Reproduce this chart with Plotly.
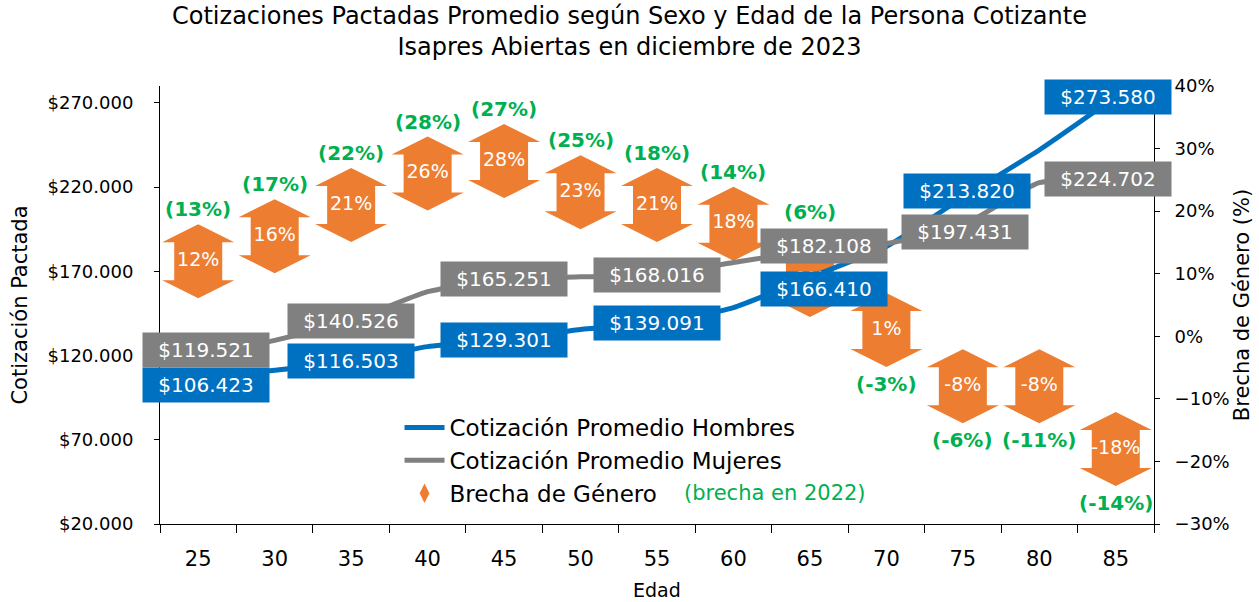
import plotly.graph_objects as go

# Average contracted contribution by age band, open Isapres, December 2023
ages = ["25", "30", "35", "40", "45", "50", "55", "60", "65", "70", "75", "80", "85"]
men = [106423, 111200, 116503, 125300, 129301, 135500, 139091, 148500, 166410, 184700, 213820, 242000, 273580]
women = [119521, 129000, 140526, 157900, 165251, 166700, 168016, 175200, 182108, 186500, 197431, 222600, 224702]
# Gender gap (%) for 2023 and the 2022 reference gap
gap_2023 = [12, 16, 21, 26, 28, 23, 21, 18, 9, 1, -8, -8, -18]
gap_2022 = [13, 17, 22, 28, 27, 25, 18, 14, 6, -3, -6, -11, -14]
labeled = [0, 2, 4, 6, 8, 10, 12]  # age bands whose amounts get a label box

left_ticks = [20000, 70000, 120000, 170000, 220000, 270000]
right_ticks = [-0.3, -0.2, -0.1, 0.0, 0.1, 0.2, 0.3, 0.4]

BLUE = "#0070C0"
GRAY = "#808080"
ORANGE = "#ED7D31"
GREEN = "#00B050"
FONT = "DejaVu Sans"


def money(v):
    return "$" + f"{v:,}".replace(",", ".")


fig = go.Figure()

# white percentage labels sitting on the gap arrows (drawn first, under the lines)
fig.add_trace(go.Scatter(
    x=ages, y=[g / 100 for g in gap_2023], yaxis="y2", mode="text",
    text=[f"{g}%" for g in gap_2023], textposition="middle center",
    textfont=dict(family=FONT, size=19, color="white"),
    showlegend=False, hoverinfo="skip",
))

fig.add_trace(go.Scatter(
    x=ages, y=men, mode="lines", name="Cotización Promedio Hombres",
    line=dict(color=BLUE, width=5, shape="spline", smoothing=0.5),
    legendgroup="a", legendrank=1,
))
fig.add_trace(go.Scatter(
    x=ages, y=women, mode="lines", name="Cotización Promedio Mujeres",
    line=dict(color=GRAY, width=5, shape="spline", smoothing=0.5),
    legendgroup="b", legendrank=2,
))
# legend entry for the gap arrows
fig.add_trace(go.Scatter(
    x=[None], y=[None], yaxis="y2", mode="markers", name="Brecha de Género",
    marker=dict(symbol="diamond-tall", size=14, color=ORANGE),
    legendgroup="c", legendrank=3,
))

# double-headed arrows anchored at each gap value
arrow_path = ("M -24,-19 L -36,-19 L 0,-37 L 36,-19 L 24,-19 L 24,19 "
              "L 36,19 L 0,37 L -36,19 L -24,19 Z")
shapes = []
for i, g in enumerate(gap_2023):
    shapes.append(dict(
        type="path", xref="x", yref="y2",
        xsizemode="pixel", ysizemode="pixel",
        xanchor=i, yanchor=g / 100, path=arrow_path,
        fillcolor=ORANGE, line=dict(width=0), layer="below",
    ))

annotations = []
# 2022 gap in green, above positive arrows and below negative ones
green_lift = {8: 68}
for i, (g23, g22) in enumerate(zip(gap_2023, gap_2022)):
    annotations.append(dict(
        x=i, y=g23 / 100, xref="x", yref="y2", text=f"<b>({g22}%)</b>",
        showarrow=False, yshift=green_lift.get(i, 52) if g23 > 5 else -54,
        font=dict(family=FONT, size=20, color=GREEN),
    ))

# amount label boxes, nudged apart where the two series run close
shift_m = {0: (8, -7), 8: (14, -12), 10: (4, 6), 12: (-8, 0)}
shift_w = {0: (8, 6), 8: (14, 5), 10: (2, -7), 12: (-8, 0)}
for i in labeled:
    for vals, col, sh in ((men, BLUE, shift_m), (women, GRAY, shift_w)):
        dx, dy = sh.get(i, (0, 0))
        annotations.append(dict(
            x=i, y=vals[i], xref="x", yref="y", text=money(vals[i]),
            showarrow=False, bgcolor=col, borderpad=5, width=116, height=24,
            xshift=dx, yshift=dy,
            font=dict(family=FONT, size=20, color="white"),
        ))

# plot area edges in pixels
pa_l, pa_r, pa_t, pa_b = 160, 1156, 86, 524
pw, ph = pa_r - pa_l, pa_b - pa_t

annotations.append(dict(
    x=(683 - pa_l) / pw, y=(pa_b - 493) / ph,
    xref="paper", yref="paper", text="(brecha en 2022)",
    showarrow=False, xanchor="left", yanchor="middle",
    font=dict(family=FONT, size=21, color=GREEN),
))
# x-axis title
annotations.append(dict(
    x=0.5, y=(pa_b - 590) / ph, xref="paper", yref="paper", text="Edad",
    showarrow=False, xanchor="center", yanchor="middle",
    font=dict(family=FONT, size=19, color="black"),
))

fig.update_layout(
    width=1259, height=602,
    margin=dict(l=pa_l, r=1259 - pa_r, t=pa_t, b=602 - pa_b),
    paper_bgcolor="white", plot_bgcolor="white",
    font=dict(family=FONT, size=17, color="black"),
    title=dict(
        text="Cotizaciones Pactadas Promedio según Sexo y Edad de la Persona Cotizante"
             "<br>Isapres Abiertas en diciembre de 2023",
        x=0.5, xanchor="center", y=1 - 24 / 602, yanchor="top",
        font=dict(family=FONT, size=24, color="black"),
    ),
    xaxis=dict(
        type="category", categoryorder="array", categoryarray=ages,
        range=[-0.5, 12.5], tickson="boundaries", ticks="outside", ticklen=8,
        tickcolor="black", showline=True, linecolor="black", linewidth=1,
        showgrid=False, zeroline=False, ticklabelstandoff=16, automargin=False,
        tickfont=dict(family=FONT, size=21),
    ),
    yaxis=dict(
        range=[20000, 280000], tickvals=left_ticks,
        ticktext=[money(v) for v in left_ticks],
        ticks="outside", ticklen=5, tickcolor="black",
        showline=True, linecolor="black", linewidth=1, showgrid=False,
        zeroline=False, ticklabelstandoff=17, tickfont=dict(family=FONT, size=18),
        title=dict(text="Cotización Pactada", font=dict(family=FONT, size=21), standoff=14),
    ),
    yaxis2=dict(
        overlaying="y", side="right", range=[-0.3, 0.4], tickvals=right_ticks,
        tickformat=".0%", ticks="outside", ticklen=5, tickcolor="black",
        showline=True, linecolor="black", linewidth=1, showgrid=False,
        zeroline=False, ticklabelstandoff=11, tickfont=dict(family=FONT, size=18),
        title=dict(text="Brecha de Género (%)", font=dict(family=FONT, size=21), standoff=3),
    ),
    legend=dict(
        x=(400 - pa_l) / pw, y=(pa_b - 406) / ph,
        xanchor="left", yanchor="top", bgcolor="rgba(0,0,0,0)",
        font=dict(family=FONT, size=23), traceorder="grouped",
        tracegroupgap=0, itemwidth=40,
    ),
    shapes=shapes,
    annotations=annotations,
)

fig.write_html("out.html")
